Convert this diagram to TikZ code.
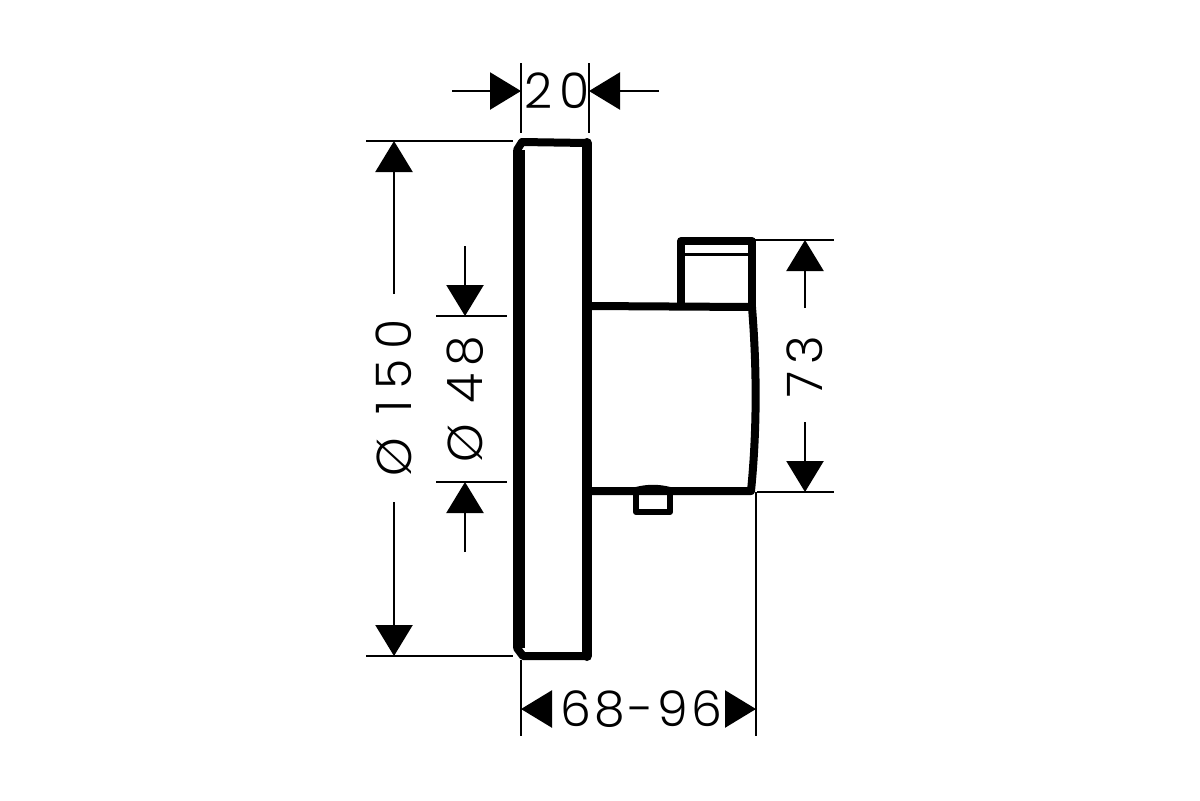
\documentclass[tikz,border=0pt]{standalone}
\usepackage{fontspec}
\usetikzlibrary{arrows.meta}
\newfontfamily\dimfont[LetterSpace=14]{Poppins Light}
\newfontfamily\dimfontw[LetterSpace=21]{Poppins Light}
\newfontfamily\dimfontn[LetterSpace=7]{Poppins Light}
\tikzset{
  body/.style={line width=4pt, line join=round, line cap=round},
  thin line/.style={line width=1.2pt},
  dim/.style={line width=1.2pt, -{Triangle[length=15.5pt,width=18.5pt]}},
  dimtext/.style={inner sep=0pt, font=\dimfont\fontsize{24.5}{24.5}\selectfont}
}
\begin{document}
\begin{tikzpicture}[x=0.5pt,y=-0.5pt]
\useasboundingbox (0,0) rectangle (1200,800);
% plate
\draw [line width=6pt, line join=round] (519,150) -- (519,648);
\draw [body] (517,150) -- (522,142) -- (587,143) (517,648) -- (523,656) -- (587,656);
\draw [line width=5pt, line join=round, line cap=round] (587,143) -- (587,656);
% housing
\draw [body] (590,306) -- (752,307) (590,491) -- (751,491);
\draw [body] (752,307) .. controls (757,370) and (757,430) .. (751,491);
\draw [body] (681,306) -- (681,241) -- (752,241) -- (752,307);
\draw [line width=1.5pt] (684,254) -- (750,254);
\draw [line width=3pt, line join=round] (636,490) -- (636,512) -- (670,512) -- (670,490);
\draw [line width=3pt] (636,490) .. controls (648,487) and (658,487) .. (670,490);
% extension lines
\draw [thin line] (521,63) -- (521,133) (589,63) -- (589,133);
\draw [thin line] (366,141) -- (513,141) (366,656) -- (513,656);
\draw [thin line] (436,316) -- (507,316) (436,482) -- (507,482);
\draw [thin line] (755,240) -- (834,240) (757,492) -- (834,492);
\draw [thin line] (521,660) -- (521,736) (756,492) -- (756,736);
% 20
\coordinate (a1) at (452,91); \coordinate (a2) at (521,91);
\coordinate (a3) at (659,91); \coordinate (a4) at (589,91);
\draw [dim] (a1) -- (a2);
\draw [dim] (a3) -- (a4);
\node [dimtext] (t20) at (557,91) {20};
% 150
\node [dimtext, rotate=90, font=\dimfontw\fontsize{24.5}{24.5}\selectfont] (t150) at (394,398) {Ø 150};
\coordinate (b1) at (394,141); \coordinate (b2) at (394,656);
\draw [dim] (394,294) -- (b1);
\draw [dim] (394,502) -- (b2);
% 48
\node [dimtext, rotate=90] (t48) at (465,399) {Ø 48};
\coordinate (c1) at (465,316); \coordinate (c2) at (465,482);
\draw [dim] (465,246) -- (c1);
\draw [dim] (465,552) -- (c2);
% 73
\node [dimtext, rotate=90] (t73) at (805,367) {73};
\coordinate (d1) at (805,240); \coordinate (d2) at (805,492);
\draw [dim] (805,308) -- (d1);
\draw [dim] (805,422) -- (d2);
% 68-96
\node [dimtext, font=\dimfontn\fontsize{24.5}{24.5}\selectfont] (t68) at (641,709) {68-96};
\coordinate (e1) at (521,709); \coordinate (e2) at (756,709);
\draw [dim] (552,709) -- (e1);
\draw [dim] (725,709) -- (e2);
\end{tikzpicture}
\end{document}
